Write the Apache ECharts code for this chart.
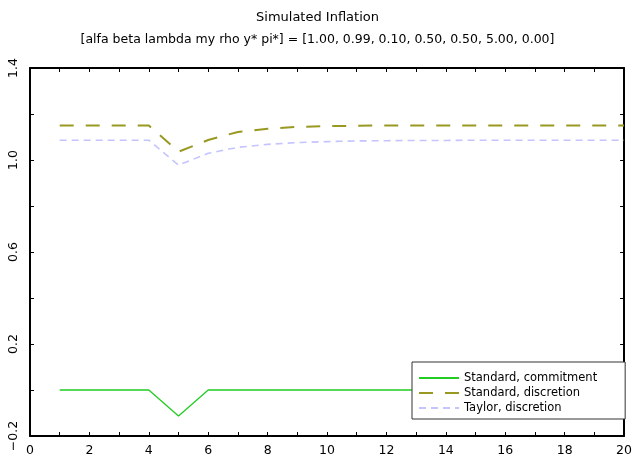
<!DOCTYPE html>
<html>
<head>
    <meta charset="UTF-8">
    <title>Simulated Inflation</title>
    <style>
        body { margin: 0; background: #fff; }
    </style>
</head>
<body>
    <div id="main" style="width: 635px;height:461px;"></div>
    <script src="https://cdn.jsdelivr.net/npm/echarts@6/dist/echarts.min.js"></script>
    <script type="text/javascript">
        // periods and the three inflation paths
        var periods = [1, 2, 3, 4, 5, 6, 7, 8, 9, 10, 11, 12, 13, 14, 15, 16, 17, 18, 19, 20];
        var commitment = [0, 0, 0, 0, -0.113, 0, 0, 0, 0, 0, 0, 0, 0, 0, 0, 0, 0, 0, 0, 0];
        var standardDisc = [1.15, 1.15, 1.15, 1.15, 1.036, 1.087, 1.122, 1.136, 1.144, 1.147, 1.149, 1.15, 1.15, 1.15, 1.15, 1.15, 1.15, 1.15, 1.15, 1.15];
        var taylorDisc = [1.086, 1.086, 1.086, 1.086, 0.978, 1.029, 1.055, 1.068, 1.076, 1.080, 1.083, 1.084, 1.085, 1.085, 1.086, 1.086, 1.086, 1.086, 1.086, 1.086];
        var seriesNames = ['Standard, commitment', 'Standard, discretion', 'Taylor, discretion'];

        function pairs(ys) {
            return periods.map(function (p, i) { return [p, ys[i]]; });
        }

        var font = 'DejaVu Sans';
        var myChart = echarts.init(document.getElementById('main'));

        // shared look of the box axes (ticks inside, black frame)
        var frameLine = { onZero: false, lineStyle: { color: '#000', width: 2 } };
        var frameTick = { show: true, inside: true, length: 4, lineStyle: { color: '#000' } };

        myChart.setOption({
            backgroundColor: '#fff',
            animation: false,
            title: {
                text: 'Simulated Inflation',
                subtext: '[alfa beta lambda my rho y* pi*] = [1.00, 0.99, 0.10, 0.50, 0.50, 5.00, 0.00]',
                left: 'center',
                top: 6,
                itemGap: 9,
                textStyle: { fontFamily: font, fontSize: 13, fontWeight: 'normal', color: '#000' },
                subtextStyle: { fontFamily: font, fontSize: 12.5, color: '#000' }
            },
            legend: {
                orient: 'vertical',
                left: 412,
                top: 362,
                itemWidth: 40,
                itemHeight: 11,
                itemGap: 3,
                itemTextGap: 8,
                padding: [10, 28, 5, 6],
                backgroundColor: '#fff',
                borderColor: '#333',
                borderWidth: 1,
                itemStyle: { opacity: 0 },
                textStyle: { fontFamily: font, fontSize: 11.5, color: '#000' },
                data: seriesNames
            },
            grid: { left: 30, right: 9, top: 68, bottom: 25, containLabel: false },
            xAxis: [{
                type: 'value', min: 0, max: 20, interval: 1,
                axisLine: frameLine,
                axisTick: frameTick,
                axisLabel: {
                    fontFamily: font, fontSize: 12.5, color: '#000', margin: 8,
                    formatter: function (v) { return v % 2 === 0 ? String(v) : ''; }
                },
                splitLine: { show: false }
            }, {
                type: 'value', min: 0, max: 20, interval: 1, position: 'top',
                axisLine: frameLine,
                axisTick: frameTick,
                axisLabel: { show: false },
                splitLine: { show: false }
            }],
            yAxis: [{
                type: 'value', min: -0.2, max: 1.4, interval: 0.2,
                axisLine: { show: true, onZero: false, lineStyle: { color: '#000', width: 2 } },
                axisTick: frameTick,
                axisLabel: {
                    fontFamily: font, fontSize: 12.5, color: '#000', rotate: 90, margin: 10,
                    formatter: function (v) {
                        if (Math.round((v + 0.2) * 10) % 4 !== 0) return '';
                        return v.toFixed(1).replace('-', '\u2212');
                    }
                },
                splitLine: { show: false }
            }, {
                type: 'value', min: -0.2, max: 1.4, interval: 0.2, position: 'right',
                axisLine: { show: true, onZero: false, lineStyle: { color: '#000', width: 2 } },
                axisTick: frameTick,
                axisLabel: { show: false },
                splitLine: { show: false }
            }],
            series: [{
                name: seriesNames[0],
                type: 'line',
                symbol: 'none',
                data: pairs(commitment),
                lineStyle: { color: '#22cc22', width: 1.3 },
                itemStyle: { color: '#22cc22' }
            }, {
                name: seriesNames[1],
                type: 'line',
                symbol: 'none',
                data: pairs(standardDisc),
                lineStyle: { color: '#999922', width: 2, type: [14, 12] },
                itemStyle: { color: '#999922' }
            }, {
                name: seriesNames[2],
                type: 'line',
                symbol: 'none',
                data: pairs(taylorDisc),
                lineStyle: { color: '#c4c4ff', width: 1.6, type: [7, 5] },
                itemStyle: { color: '#c4c4ff' }
            }]
        });
    </script>
</body>
</html>
